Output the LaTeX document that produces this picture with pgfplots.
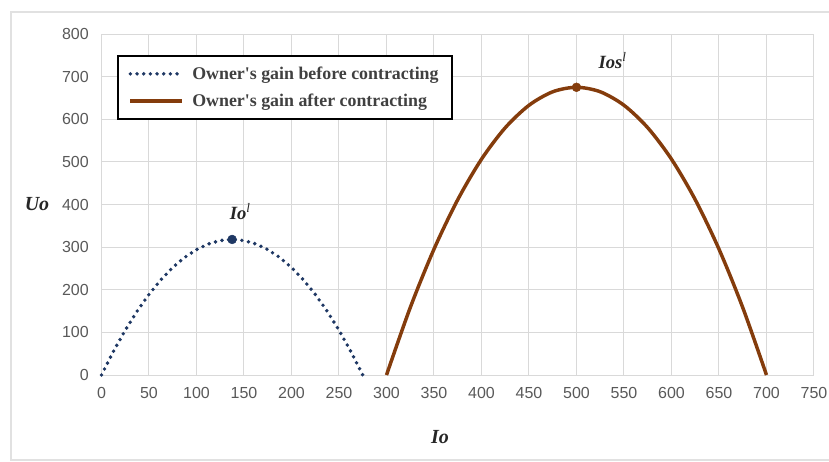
\documentclass[border=0pt]{standalone}
\usepackage{pgfplots}
\pgfplotsset{compat=1.18}
\usepackage{fontspec}
\setmainfont{Liberation Serif}
\newfontfamily\serif{Liberation Serif}
\newfontfamily\tickfont{Liberation Sans}
\definecolor{tickgray}{HTML}{595959}
\definecolor{gridgray}{HTML}{D9D9D9}
\definecolor{navy}{HTML}{1F3864}
\definecolor{brownc}{HTML}{843C0C}
\definecolor{legtext}{HTML}{404040}
\definecolor{annot}{HTML}{262626}
\begin{document}
\begin{tikzpicture}
\useasboundingbox (0pt,0pt) rectangle (621.75pt,-345.75pt);
\clip (0pt,0pt) rectangle (621.75pt,-345.75pt);
\draw[gridgray!80, line width=0.8pt] (8.25pt,-9pt) rectangle (640pt,-345pt);
\begin{axis}[
  at={(76.125pt,-281.25pt)}, anchor=south west,
  scale only axis, width=534.375pt, height=255.75pt,
  xmin=0, xmax=750, ymin=0, ymax=800,
  xtick={0,50,...,750}, ytick={0,100,...,800},
  grid=major, major grid style={draw=gridgray, line width=0.75pt},
  axis line style={draw=none}, major tick length=0pt,
  /pgf/number format/assume math mode=true,
  ticklabel style={font=\tickfont\fontsize{12}{14}\selectfont, text=tickgray},
  xticklabel style={yshift=-6pt},
  yticklabel style={xshift=-6pt},
  clip=false,
  xlabel={\bfseries\itshape Io}, ylabel={\bfseries\itshape Uo},
  xlabel style={at={(axis description cs:0.475,-0.182)}, anchor=center, font=\fontsize{15}{18}\selectfont, text=annot},
  ylabel style={rotate=-90, at={(axis description cs:-0.0905,0.5)}, anchor=center, font=\fontsize{15}{18}\selectfont, text=annot},
  legend style={at={(rel axis cs:0.0218,0.938)}, anchor=north west, draw=black, line width=1.1pt,
    font=\serif\bfseries\fontsize{13.4}{16}\selectfont, text=legtext, inner xsep=8pt, inner ysep=6pt,
    row sep=5.5pt, /tikz/every odd column/.append style={column sep=4pt}},
  legend cell align=left,
  legend image code/.code={\draw[#1] (0pt,0pt) -- (39pt,0pt);},
]
\addplot[navy, line width=2.9pt, line cap=round, dash pattern=on 0pt off 5pt] coordinates {
(0,0) (12.5,55.2) (25,105.1) (37.5,149.8) (50,189.2) (62.5,223.4) (75,252.3) (87.5,275.9)
(100,294.3) (112.5,307.5) (125,315.4) (137.5,318) (150,315.4) (162.5,307.5) (175,294.3)
(187.5,275.9) (200,252.3) (212.5,223.4) (225,189.2) (237.5,149.8) (250,105.1) (262.5,55.2) (275,0)};
\addlegendentry{Owner's gain before contracting}
\addplot[brownc, line width=2.6pt, smooth] coordinates {
(300,0) (325,158.2) (350,295.3) (375,411.3) (400,506.3) (425,580.1) (450,632.8) (475,664.5)
(500,675) (525,664.5) (550,632.8) (575,580.1) (600,506.3) (625,411.3) (650,295.3) (675,158.2) (700,0)};
\addlegendentry{Owner's gain after contracting}
\addplot[forget plot, only marks, mark=*, mark size=3.3pt, navy] coordinates {(137.5,318)};
\addplot[forget plot, only marks, mark=*, mark size=3.3pt, brownc] coordinates {(500,675)};
\node[text=annot, font=\bfseries\itshape\fontsize{14}{16}\selectfont] at (axis cs:146,383) {Io\textsuperscript{\normalfont\itshape l}};
\node[text=annot, font=\bfseries\itshape\fontsize{14}{16}\selectfont] at (axis cs:538,737) {Ios\textsuperscript{\normalfont\itshape l}};
\end{axis}
\end{tikzpicture}
\end{document}
